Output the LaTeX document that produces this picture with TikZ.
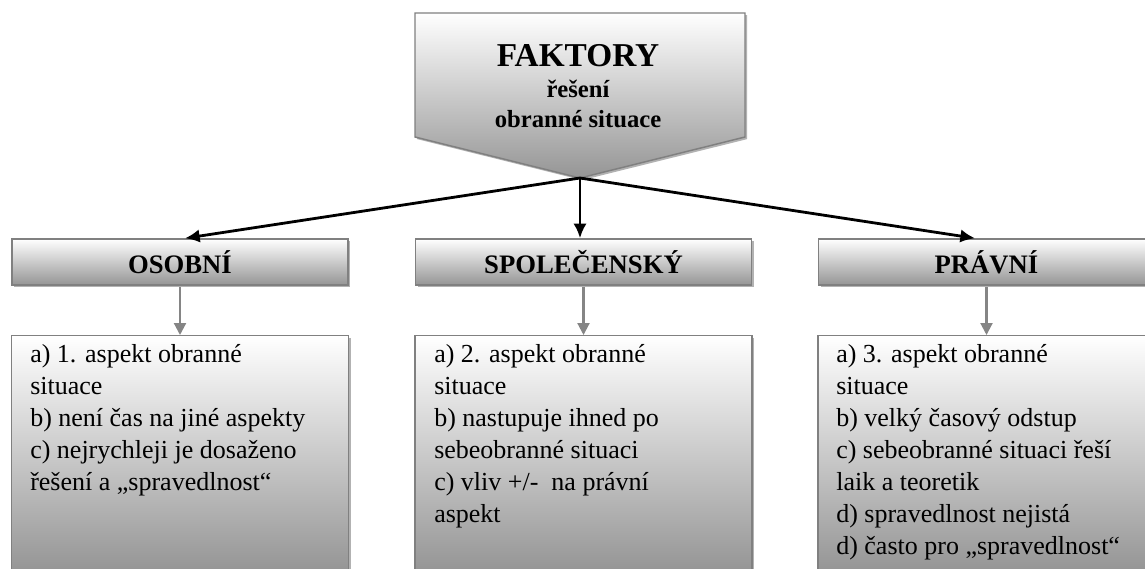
\documentclass[tikz,border=0pt]{standalone}
\usepackage{fontspec}
\setmainfont{Liberation Serif}
\usetikzlibrary{arrows.meta,shadows}
\definecolor{bordergray}{HTML}{808080}
\definecolor{shadegray}{HTML}{959595}
\definecolor{boxgray}{HTML}{8A8A8A}
\definecolor{arrowgray}{HTML}{858585}
\begin{document}
\begin{tikzpicture}[x=0.75pt,y=-0.75pt,
  myshadow/.style={drop shadow={shadow xshift=1.6pt,shadow yshift=-1.6pt,opacity=0.3,fill=black}},
  hdr/.style={draw=bordergray,line width=1.1pt,top color=white,bottom color=shadegray,
    minimum width=252pt,minimum height=34.5pt,inner sep=0pt,
    font=\fontsize{20}{22}\selectfont\bfseries,myshadow},
  bodybox/.style={draw=bordergray,line width=1.1pt,top color=white,bottom color=boxgray,
    minimum width=252.75pt,minimum height=195pt,inner sep=0pt,anchor=north,myshadow},
  bodytext/.style={anchor=north west,inner sep=0pt,align=left,
    font=\fontsize{19.5}{24}\selectfont},
  toptext/.style={anchor=base,inner sep=0pt,font=\bfseries},
  blackarrow/.style={line width=2.1pt,-{Latex[length=11pt,width=10pt]}},
  grayarrow/.style={draw=arrowgray,line width=1.6pt,-{Triangle[length=9pt,width=9pt]},shorten <=1pt},
]
\useasboundingbox (0,0) rectangle (1145,568);
\begin{scope}
\clip (0,0) rectangle (1145,568);
% top pentagon
\shadedraw[top color=white,bottom color=shadegray,draw=bordergray,line width=1.1pt,myshadow]
  (415,13) -- (745,13) -- (745,137) -- (580,178) -- (415,137) -- cycle;
\coordinate (tip) at (580,178);
\node[toptext,font=\fontsize{25}{27}\selectfont\bfseries] (t1) at (578,66) {FAKTORY};
\node[toptext,font=\fontsize{18.5}{20}\selectfont\bfseries] (t2) at (578,97) {řešení};
\node[toptext,font=\fontsize{18.5}{20}\selectfont\bfseries] (t3) at (578,127) {obranné situace};

% headers
\node[hdr] (osobni) at (180,262) {OSOBNÍ};
\node[hdr] (spol) at (583.5,262) {SPOLEČENSKÝ};
\node[hdr] (pravni) at (986.5,262) {PRÁVNÍ};

% content boxes
\node[bodybox] (osobniBox) at (180,335) {};
\node[bodybox] (spolBox) at (583.5,335) {};
\node[bodybox] (pravniBox) at (986.5,335) {};

\node[bodytext] (osobniText) at (30,344) {a) 1. aspekt obranné\\situace\\b) není čas na jiné aspekty\\c) nejrychleji je dosaženo\\řešení a „spravedlnost“};
\node[bodytext] (spolText) at (434,344) {a) 2. aspekt obranné\\situace\\b) nastupuje ihned po\\sebeobranné situaci\\c) vliv +/- \ na právní\\aspekt};
\node[bodytext] (pravniText) at (836,344) {a) 3. aspekt obranné\\situace\\b) velký časový odstup\\c) sebeobranné situaci řeší\\laik a teoretik\\d) spravedlnost nejistá\\d) často pro „spravedlnost“};

% connectors
\draw[blackarrow] (tip) -- ([xshift=3.75pt]osobni.north);
\draw[blackarrow] (tip) -- (tip |- spol.north);
\draw[blackarrow] (tip) -- ([xshift=-8.6pt]pravni.north);
\draw[grayarrow] (osobni.south) -- (osobniBox.north);
\draw[grayarrow] (spol.south) -- (spolBox.north);
\draw[grayarrow] (pravni.south) -- (pravniBox.north);
\end{scope}
\end{tikzpicture}
\end{document}
